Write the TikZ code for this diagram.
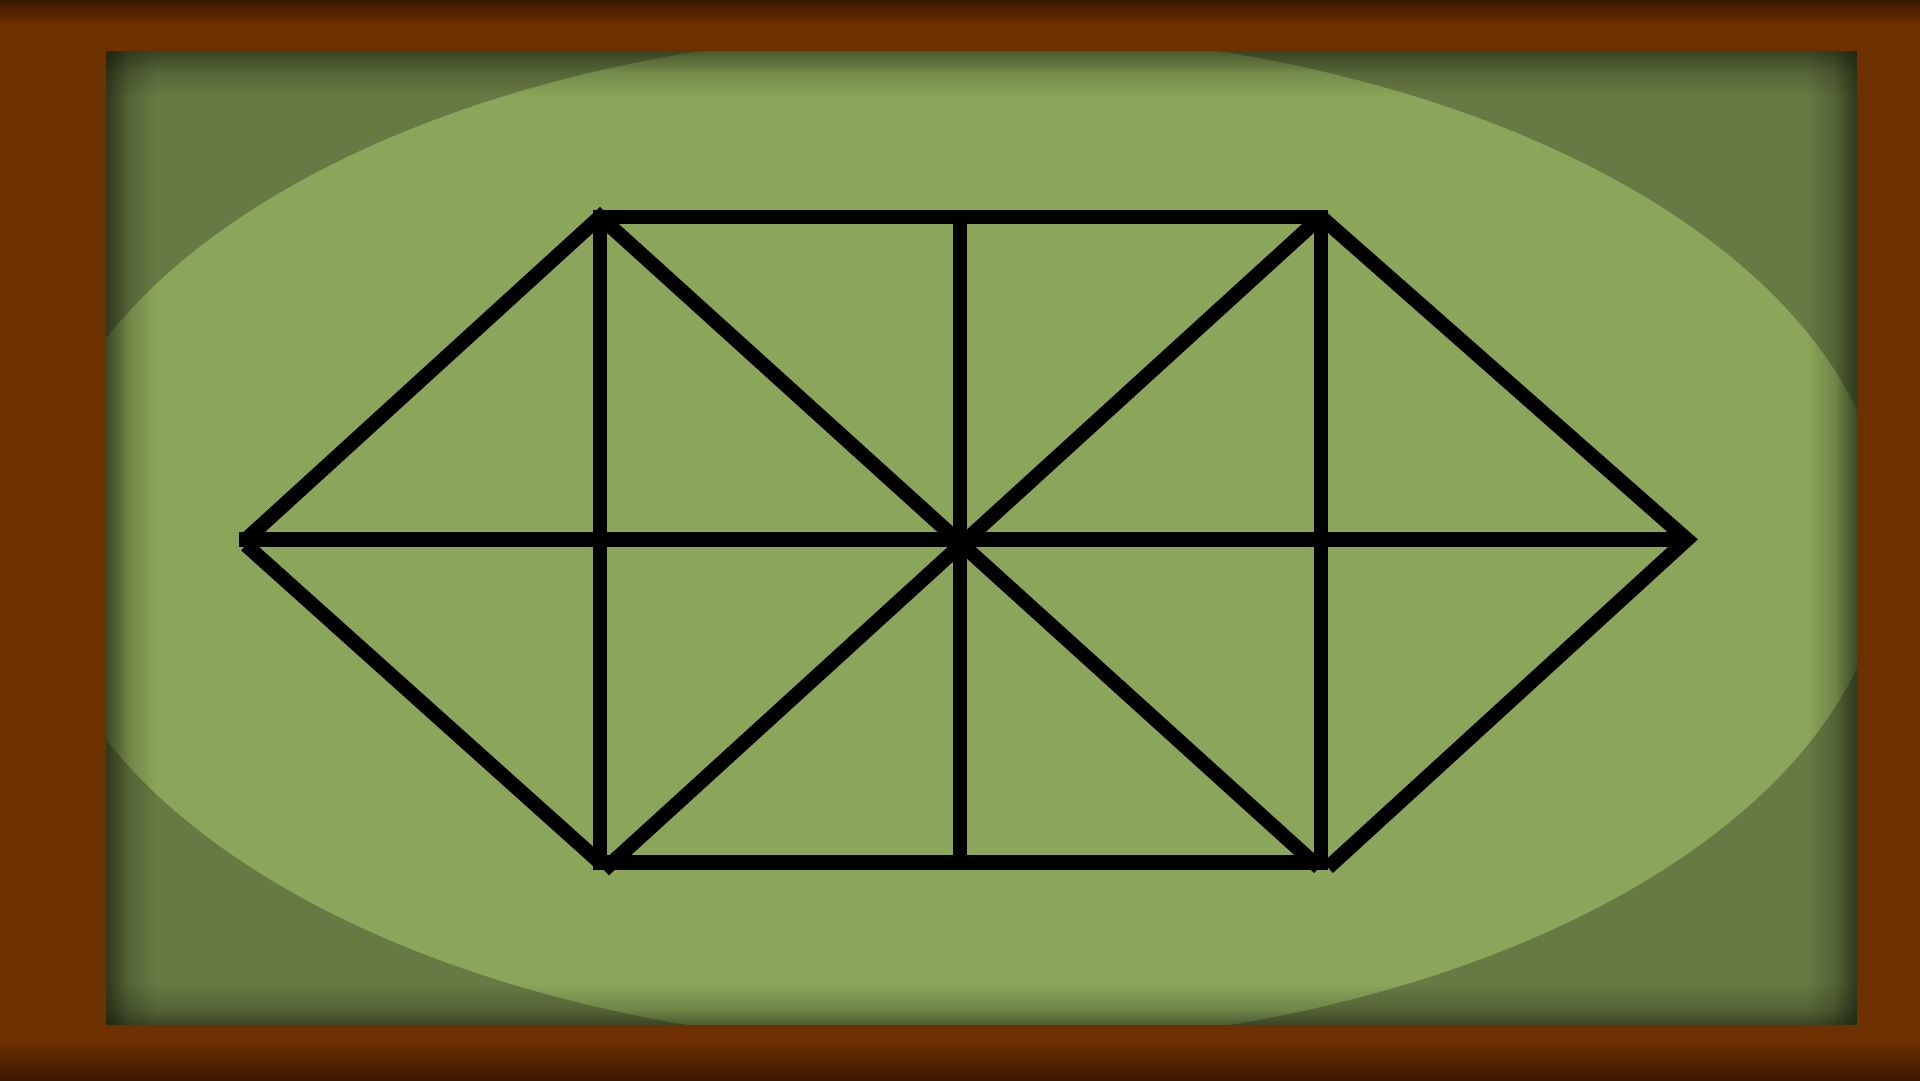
\documentclass[tikz,border=0pt]{standalone}
\usetikzlibrary{fadings}
\definecolor{frame}{RGB}{111,48,0}
\definecolor{framedark}{RGB}{58,24,0}
\definecolor{field}{RGB}{104,122,67}
\definecolor{oval}{RGB}{139,166,90}
\definecolor{shadowc}{RGB}{16,22,10}
\tikzfading[name=fadeR, left color=transparent!0, right color=transparent!100]
\tikzfading[name=fadeL, left color=transparent!100, right color=transparent!0]
\tikzfading[name=fadeD, top color=transparent!0, bottom color=transparent!100]
\tikzfading[name=fadeU, top color=transparent!100, bottom color=transparent!0]
\begin{document}
\begin{tikzpicture}[x=1pt,y=-1pt,
  member/.style={line width=14.5pt, black, line cap=butt, line join=miter},
  chord/.style={line width=14.5pt, black, line cap=rect}]
\useasboundingbox (0,0) rectangle (1920,1080);
% field
\begin{scope}
\clip (100,45) rectangle (1863,1031);
\fill[field] (100,45) rectangle (1863,1031);
\fill[oval] (959,539) ellipse [x radius=928, y radius=508];
\fill[shadowc, opacity=0.45, path fading=fadeR] (100,45) rectangle (156,1031);
\fill[shadowc, opacity=0.5, path fading=fadeR] (100,45) rectangle (128,1031);
\fill[shadowc, opacity=0.45, path fading=fadeL] (1807,45) rectangle (1863,1031);
\fill[shadowc, opacity=0.5, path fading=fadeL] (1835,45) rectangle (1863,1031);
\fill[shadowc, opacity=0.4, path fading=fadeD] (100,45) rectangle (1863,97);
\fill[shadowc, opacity=0.35, path fading=fadeD] (100,45) rectangle (1863,72);
\fill[shadowc, opacity=0.4, path fading=fadeU] (100,983) rectangle (1863,1031);
\fill[shadowc, opacity=0.35, path fading=fadeU] (100,1010) rectangle (1863,1031);
\end{scope}
% frame
\fill[frame, even odd rule] (0,0) rectangle (1920,1080) (106,51) rectangle (1857,1025);
\shade[top color=framedark, bottom color=frame] (0,0) rectangle (1920,24);
\shade[top color=frame, bottom color=framedark] (0,1040) rectangle (1920,1080);
% truss points
\coordinate (L) at (246,539.5);
\coordinate (Lh) at (239,539.5);
\coordinate (La) at (246,545);
\coordinate (TL) at (600,216.8);
\coordinate (TM) at (960,216.8);
\coordinate (TR) at (1320.8,216.8);
\coordinate (R) at (1687,539.5);
\coordinate (C) at (960,539.5);
\coordinate (BL) at (600,862.5);
\coordinate (BLa) at (604,870);
\coordinate (BM) at (960,862.5);
\coordinate (BR) at (1320.8,862.5);
\coordinate (BRa) at (1319,867.6);
\coordinate (BRb) at (1328,867.6);
% chords and verticals
\draw[chord] (TL) -- (TR);
\draw[chord] (BL) -- (BR);
\draw[chord] (TL) -- (BL);
\draw[chord] (TM) -- (BM);
\draw[chord] (TR) -- (BR);
\draw[member] (Lh) -- (R);
% diagonals
\draw[member] (L) -- (TL) -- (BRa);
\draw[member] (TR) -- (R) -- (BRb);
\draw[member] (TR) -- (BLa);
\draw[member] (La) -- (BL);
\end{tikzpicture}
\end{document}
